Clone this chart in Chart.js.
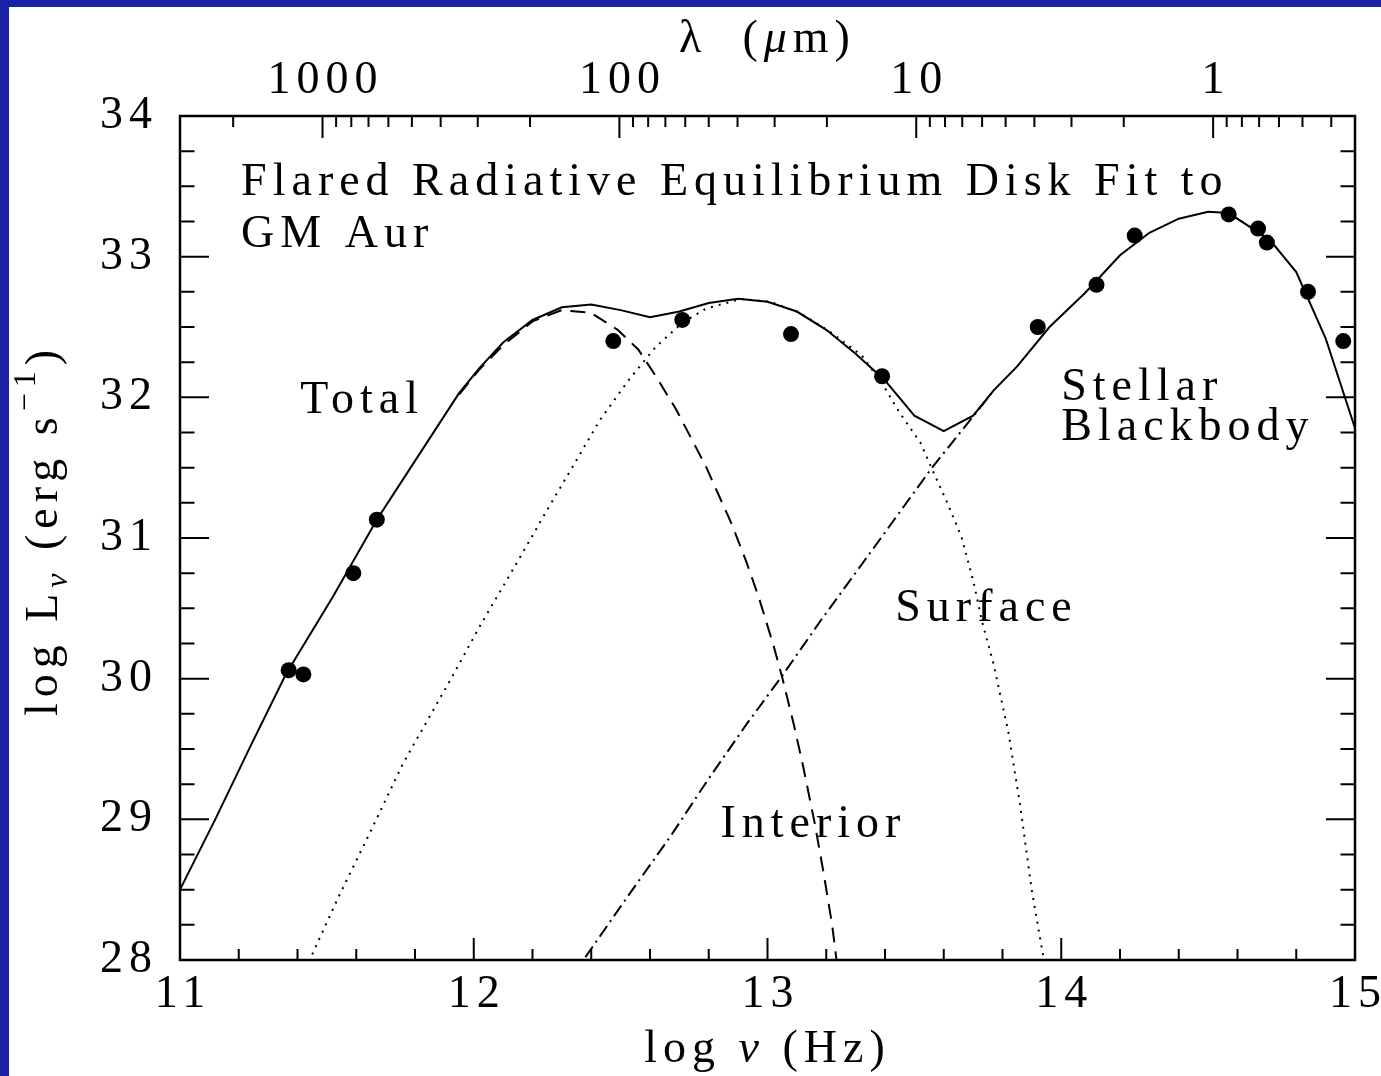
<!DOCTYPE html>
<html lang="en">
<head>
  <meta charset="UTF-8">
  <title>GM Aur - Flared Disk SED</title>
  <script src="https://cdn.jsdelivr.net/npm/chart.js"></script>
  <style>
    html, body { margin: 0; padding: 0; background: #1a23a7; overflow: hidden; }
    .sheet { position: absolute; left: 9px; top: 7px; width: 1372px; height: 1069px; background: #fff; }
  </style>
</head>
<body>
  <div class="sheet"><canvas id="sed" width="1372" height="1069"></canvas></div>

  <script>
    // Total model (solid)
    const totalNu = [11.00, 11.12, 11.24, 11.36, 11.52, 11.67, 11.81, 11.95, 12.02, 12.10,
                     12.20, 12.30, 12.40, 12.50, 12.60, 12.70, 12.80, 12.90, 13.00, 13.10,
                     13.20, 13.30, 13.40, 13.50, 13.60, 13.70, 13.77, 13.85, 13.96, 14.08,
                     14.20, 14.30, 14.40, 14.50, 14.57, 14.71, 14.80, 14.90, 15.00];
    const totalL  = [28.50, 29.00, 29.52, 30.03, 30.58, 31.13, 31.58, 32.03, 32.21, 32.39,
                     32.55, 32.64, 32.66, 32.62, 32.57, 32.61, 32.67, 32.70, 32.68, 32.61,
                     32.48, 32.31, 32.12, 31.87, 31.76, 31.87, 32.05, 32.22, 32.50, 32.74,
                     33.01, 33.17, 33.27, 33.32, 33.31, 33.12, 32.89, 32.42, 31.78];

    // Disk interior (dashed)
    const interiorNu = [11.95, 12.02, 12.10, 12.20, 12.30, 12.40, 12.49, 12.56, 12.62, 12.69, 12.79,
                        12.88, 12.93, 12.97, 13.02, 13.05, 13.09, 13.12, 13.16, 13.19, 13.22, 13.235];
    const interiorL  = [32.02, 32.20, 32.37, 32.54, 32.62, 32.60, 32.48, 32.34, 32.15, 31.91, 31.51,
                        31.09, 30.82, 30.58, 30.24, 30.01, 29.67, 29.39, 28.98, 28.63, 28.25, 28.00];

    // Disk surface (dotted)
    const surfaceNu = [11.45, 11.54, 11.65, 11.76, 11.92, 12.02, 12.14, 12.25, 12.36, 12.43, 12.53,
                       12.62, 12.71, 12.79, 12.91, 13.01, 13.11, 13.21, 13.32, 13.39, 13.45, 13.52,
                       13.56, 13.61, 13.66, 13.70, 13.73, 13.77, 13.82, 13.86, 13.90, 13.94];
    const surfaceL  = [28.04, 28.45, 28.92, 29.40, 29.99, 30.37, 30.80, 31.20, 31.59, 31.84, 32.13,
                       32.36, 32.53, 32.63, 32.70, 32.68, 32.60, 32.47, 32.30, 32.10, 31.89, 31.68,
                       31.49, 31.26, 31.01, 30.70, 30.41, 30.10, 29.62, 29.10, 28.49, 28.01];

    // Stellar blackbody (dash-dot), until it merges with the total
    const stellarNu = [12.38, 12.52, 12.67, 12.80, 12.93, 13.05, 13.18, 13.32, 13.48, 13.56, 13.71, 13.77];
    const stellarL  = [28.02, 28.44, 28.88, 29.29, 29.68, 30.02, 30.41, 30.81, 31.27, 31.50, 31.89, 32.05];

    // Observed photometry
    const obsNu = [11.37, 11.42, 11.59, 11.67, 12.475, 12.71, 13.08, 13.39,
                   13.92, 14.12, 14.25, 14.57, 14.67, 14.70, 14.84, 14.96];
    const obsL  = [30.06, 30.03, 30.75, 31.13, 32.40, 32.55, 32.45, 32.15,
                   32.50, 32.80, 33.15, 33.30, 33.20, 33.10, 32.75, 32.40];

    // Axis ticks
    const nuTicks = [11, 12, 13, 14, 15];
    const lumTicks = [28, 29, 30, 31, 32, 33, 34];
    const lambdaLabels = [1000, 100, 10, 1];

    // wavelength (micron) -> log nu, as laid out on the upper axis
    const LAM_ZERO = 14.517;
    const LAM_SCALE = 1.0106;
    const lamNu = l => LAM_ZERO - LAM_SCALE * Math.log10(l);

    // text placed inside the box (data coordinates of the left baseline)
    const notes = [
      { text: 'Flared Radiative Equilibrium Disk Fit to', x: 11.208, y: 33.44 },
      { text: 'GM Aur', x: 11.208, y: 33.07 },
      { text: 'Total', x: 11.409, y: 31.886 },
      { text: 'Stellar', x: 14.0, y: 31.98 },
      { text: 'Blackbody', x: 14.0, y: 31.697 },
      { text: 'Surface', x: 13.435, y: 30.41 },
      { text: 'Interior', x: 12.84, y: 28.877 }
    ];

    const zip = (xs, ys) => xs.map((v, i) => ({ x: v, y: ys[i] }));

    const FONT = '"Liberation Serif", "Times New Roman", serif';
    const SPACING = '6px';

    Chart.defaults.font.family = FONT;
    Chart.defaults.font.size = 46;
    Chart.defaults.color = '#000';

    function drawRuns(ctx, runs) {
      // runs laid out left to right, centred on the current origin
      let total = 0;
      runs.forEach(r => { ctx.font = r.font; r.w = ctx.measureText(r.t).width; total += r.w; });
      let cx = -total / 2;
      runs.forEach(r => {
        ctx.font = r.font;
        ctx.fillText(r.t, cx, r.dy || 0);
        cx += r.w;
      });
    }

    const framePlugin = {
      id: 'frame',
      beforeDraw(chart) {
        chart.ctx.letterSpacing = SPACING;
      },
      afterDraw(chart) {
        const { ctx, chartArea: a, scales: { x, y } } = chart;
        ctx.save();
        ctx.letterSpacing = SPACING;
        ctx.strokeStyle = '#000';
        ctx.fillStyle = '#000';

        // box
        ctx.lineWidth = 2.5;
        ctx.strokeRect(a.left, a.top, a.right - a.left, a.bottom - a.top);

        // tick marks
        ctx.lineWidth = 2;
        ctx.beginPath();
        for (let i = 1; i < 20; i++) {
          const px = x.getPixelForValue(11 + i * 0.2);
          const len = i % 5 === 0 ? 22 : 11;
          ctx.moveTo(px, a.bottom);
          ctx.lineTo(px, a.bottom - len);
        }
        [0.1, 1, 10, 100, 1000].forEach(dec => {
          for (let m = 1; m <= 9; m++) {
            const v = lamNu(m * dec);
            if (v <= 11.01 || v >= 14.99) continue;
            const px = x.getPixelForValue(v);
            ctx.moveTo(px, a.top);
            ctx.lineTo(px, a.top + (m === 1 ? 22 : 11));
          }
        });
        for (let i = 1; i < 24; i++) {
          const py = y.getPixelForValue(28 + i * 0.25);
          const len = i % 4 === 0 ? 29 : 14.5;
          ctx.moveTo(a.left, py);
          ctx.lineTo(a.left + len, py);
          ctx.moveTo(a.right, py);
          ctx.lineTo(a.right - len, py);
        }
        ctx.stroke();

        // labels inside the box
        ctx.font = '46px ' + FONT;
        ctx.textAlign = 'left';
        ctx.textBaseline = 'alphabetic';
        notes.forEach(n => {
          ctx.fillText(n.text, x.getPixelForValue(n.x), y.getPixelForValue(n.y));
        });

        // axis titles
        const roman = '46px ' + FONT;
        const ital = 'italic 46px ' + FONT;
        const small = '32px ' + FONT;
        const smallItal = 'italic 32px ' + FONT;
        const midX = (a.left + a.right) / 2;

        ctx.save();
        ctx.translate(midX, a.top - 64);
        drawRuns(ctx, [
          { t: 'λ  (', font: roman },
          { t: 'μ', font: ital },
          { t: 'm)', font: roman }
        ]);
        ctx.restore();

        ctx.save();
        ctx.translate(midX, a.bottom + 102);
        drawRuns(ctx, [
          { t: 'log ', font: roman },
          { t: 'ν', font: ital },
          { t: ' (Hz)', font: roman }
        ]);
        ctx.restore();

        ctx.save();
        ctx.translate(a.left - 123, (a.top + a.bottom) / 2 - 8);
        ctx.rotate(-Math.PI / 2);
        drawRuns(ctx, [
          { t: 'log L', font: roman },
          { t: 'ν', font: smallItal, dy: 10 },
          { t: ' (erg s', font: roman },
          { t: '−1', font: small, dy: -22 },
          { t: ')', font: roman }
        ]);
        ctx.restore();

        ctx.restore();
      }
    };

    const lineSet = (label, xs, ys, dash) => ({
      label: label,
      data: zip(xs, ys),
      showLine: true,
      borderColor: '#000',
      borderWidth: 2,
      borderDash: dash,
      pointRadius: 0,
      fill: false,
      tension: 0
    });

    const noSidePadding = s => { s.paddingLeft = 0; s.paddingRight = 0; };

    const ctx = document.getElementById('sed').getContext('2d');
    new Chart(ctx, {
      type: 'scatter',
      data: {
        datasets: [
          lineSet('Interior', interiorNu, interiorL, [15, 9]),
          lineSet('Surface', surfaceNu, surfaceL, [2, 6]),
          lineSet('Stellar Blackbody', stellarNu, stellarL, [13, 5, 2, 5]),
          lineSet('Total', totalNu, totalL, []),
          {
            label: 'GM Aur',
            data: zip(obsNu, obsL),
            showLine: false,
            pointRadius: 8,
            pointBackgroundColor: '#000',
            pointBorderWidth: 0
          }
        ]
      },
      options: {
        responsive: false,
        devicePixelRatio: 1,
        animation: false,
        layout: { padding: { right: 26 } },
        plugins: { legend: { display: false }, tooltip: { enabled: false } },
        scales: {
          x: {
            type: 'linear',
            position: 'bottom',
            min: 11,
            max: 15,
            afterBuildTicks: s => { s.ticks = nuTicks.map(v => ({ value: v })); },
            ticks: { padding: 7, maxRotation: 0, autoSkip: false, labelOffset: 3 },
            grid: { display: false, drawTicks: false },
            border: { display: false },
            afterFit: s => { s.height = 116; noSidePadding(s); }
          },
          x2: {
            type: 'linear',
            position: 'top',
            min: 11,
            max: 15,
            afterBuildTicks: s => { s.ticks = lambdaLabels.map(l => ({ value: lamNu(l) })); },
            ticks: { padding: 7, maxRotation: 0, autoSkip: false, labelOffset: 3,
                     callback: (v, i) => String(lambdaLabels[i]) },
            grid: { display: false, drawTicks: false },
            border: { display: false },
            afterFit: s => { s.height = 109; noSidePadding(s); }
          },
          y: {
            type: 'linear',
            position: 'left',
            min: 28,
            max: 34,
            afterBuildTicks: s => { s.ticks = lumTicks.map(v => ({ value: v })); },
            ticks: { padding: 22, autoSkip: false },
            grid: { display: false, drawTicks: false },
            border: { display: false },
            afterFit: s => { s.width = 171; }
          }
        }
      },
      plugins: [framePlugin]
    });
  </script>
</body>
</html>
